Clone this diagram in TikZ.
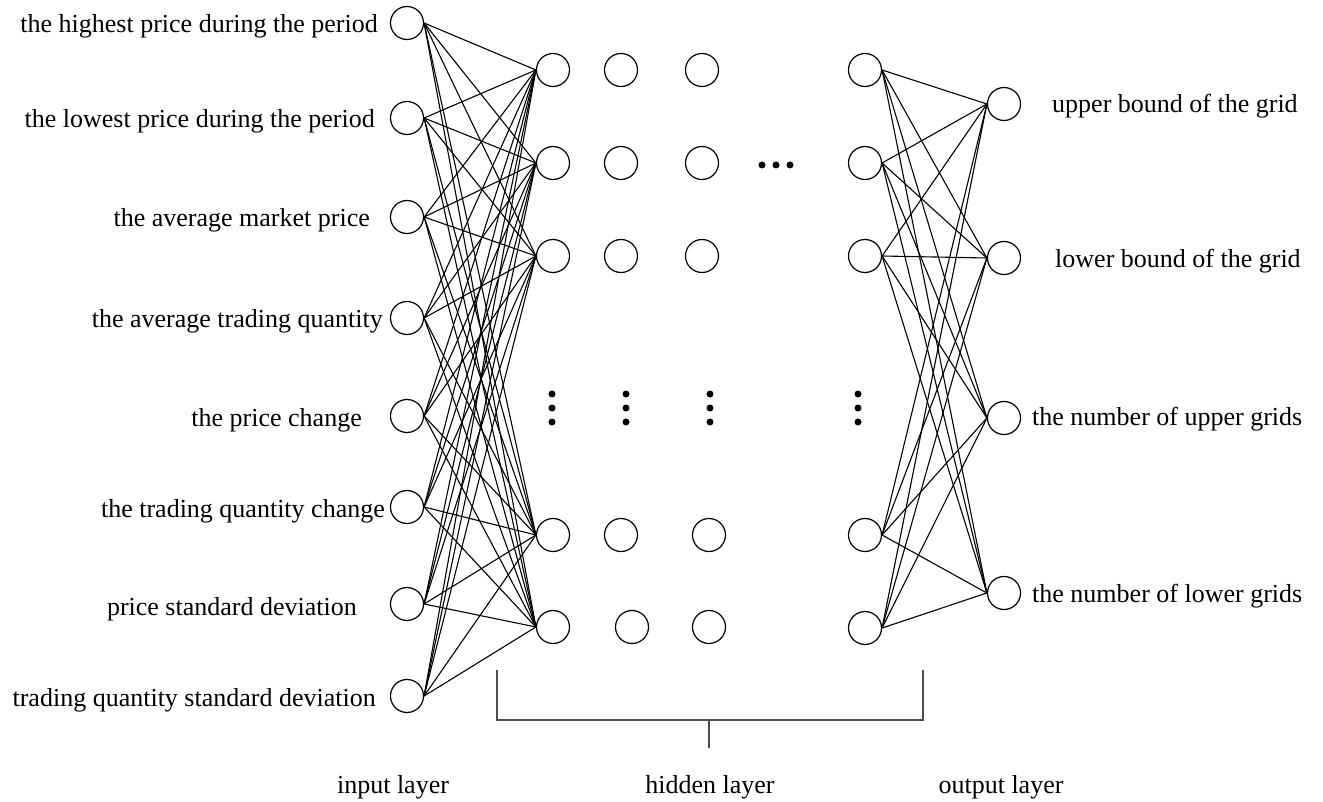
\documentclass[tikz,border=0pt]{standalone}
\usepackage{fontspec}
\setmainfont{Liberation Serif}
\begin{document}
\begin{tikzpicture}[x=1pt,y=-1pt,
  neuron/.style={circle,draw,line width=1.2pt,minimum size=33pt,inner sep=0pt},
  conn/.style={line width=1.1pt},
  lbl/.style={font=\fontsize{26}{30}\selectfont,inner sep=0pt},
  bigdot/.style={circle,fill,inner sep=0pt,minimum size=7pt},
  brk/.style={line width=1.5pt,draw=black!70}]
\useasboundingbox (0,0) rectangle (1323,802);
% input layer
\foreach \i/\y in {1/23,2/118,3/217,4/318,5/416,6/507,7/604,8/696}
  \node[neuron] (in\i) at (407,\y) {};
% hidden layers
\foreach \i/\x/\y in {1/553/70,2/553/163,3/553/256,4/553/535,5/553/627}
  \node[neuron] (ha\i) at (\x,\y) {};
\foreach \i/\x/\y in {1/621/70,2/621/163,3/621/256,4/621/535,5/632/627}
  \node[neuron] (hb\i) at (\x,\y) {};
\foreach \i/\x/\y in {1/702/70,2/702/163,3/702/256,4/709/535,5/709/627}
  \node[neuron] (hc\i) at (\x,\y) {};
\foreach \i/\x/\y in {1/865/70,2/865/163,3/865/256,4/865/535,5/865/628}
  \node[neuron] (hd\i) at (\x,\y) {};
% output layer
\foreach \i/\y in {1/104,2/258,3/418,4/593}
  \node[neuron] (out\i) at (1004,\y) {};
% connections
\foreach \i in {1,...,8}
  \foreach \j in {1,...,5}
    \draw[conn] (in\i.east) -- (ha\j.west);
\foreach \i in {1,...,5}
  \foreach \j in {1,...,4}
    \draw[conn] (hd\i.east) -- (out\j.west);
% ellipsis dots
\foreach \k/\x in {1/762,2/776,3/790}
  \node[bigdot] (hd-dot\k) at (\x,165) {};
\foreach \c/\x in {a/552,b/626,c/710,d/858}
  \foreach \k/\y in {1/394,2/408,3/422}
    \node[bigdot] (vd\c\k) at (\x,\y) {};
% input labels
\node[lbl,anchor=base east] (l1) at (378,33) {the highest price during the period};
\node[lbl,anchor=base east] (l2) at (375,128) {the lowest price during the period};
\node[lbl,anchor=base east] (l3) at (370,227) {the average market price};
\node[lbl,anchor=base east] (l4) at (383,328) {the average trading quantity};
\node[lbl,anchor=base east] (l5) at (362,426) {the price change};
\node[lbl,anchor=base east] (l6) at (385,517) {the trading quantity change};
\node[lbl,anchor=base east] (l7) at (357,615) {price standard deviation};
\node[lbl,anchor=base east] (l8) at (376,706) {trading quantity standard deviation};
% output labels
\node[lbl,anchor=base west] (r1) at (1052,113) {upper bound of the grid};
\node[lbl,anchor=base west] (r2) at (1055,268) {lower bound of the grid};
\node[lbl,anchor=base west] (r3) at (1032,425) {the number of upper grids};
\node[lbl,anchor=base west] (r4) at (1032,602) {the number of lower grids};
% bracket
\coordinate (b1) at (497,670);
\coordinate (b2) at (497,720);
\coordinate (b3) at (923,720);
\coordinate (b4) at (923,670);
\coordinate (t1) at (709,720);
\coordinate (t2) at (709,748);
\draw[brk] (b1) -- (b2) -- (b3) -- (b4);
\draw[brk] (t1) -- (t2);
% layer labels
\node[lbl,anchor=base] (L1) at (393,793) {input layer};
\node[lbl,anchor=base] (L2) at (710,793) {hidden layer};
\node[lbl,anchor=base] (L3) at (1001,793) {output layer};
\end{tikzpicture}
\end{document}
